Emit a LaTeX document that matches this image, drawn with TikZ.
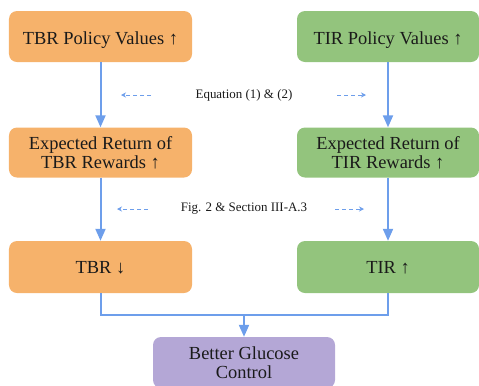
\documentclass[tikz,border=0pt]{standalone}
\usepackage{fontspec}
\setmainfont{Liberation Serif}
\usetikzlibrary{arrows.meta}
\definecolor{tbrfill}{HTML}{F6B26B}
\definecolor{tirfill}{HTML}{93C47D}
\definecolor{goalfill}{HTML}{B4A7D6}
\definecolor{flow}{HTML}{6D9EEB}
\definecolor{ink}{HTML}{1A1A1A}
\tikzset{
  box/.style={rectangle, rounded corners=8bp, draw=none, minimum height=51bp,
    minimum width=183bp, align=center, text=ink,
    font=\fontsize{18.5}{19.5}\selectfont, inner sep=0pt},
  oneline/.style={text height=12.5bp, text depth=0bp},
  tbr/.style={box, fill=tbrfill},
  tir/.style={box, fill=tirfill},
  goal/.style={box, fill=goalfill},
  flowline/.style={draw=flow, line width=2bp},
  flowarrow/.style={flowline, -{Triangle[width=10bp,length=12bp]}},
  hint/.style={draw=flow, line width=0.8bp, dash pattern=on 4bp off 3bp,
    -{Stealth[width=5bp,length=5bp]}},
  note/.style={font=\fontsize{13}{15}\selectfont, text=ink, inner sep=0pt}
}
\begin{document}
\begin{tikzpicture}[x=1bp, y=-1bp]
  \useasboundingbox (0,0) rectangle (479,385);
  \clip (0,0) rectangle (479,385);

  % left column
  \node[tbr, text height=15.5bp, text depth=0bp] (tbrpol) at (100.5,36.5) {TBR Policy Values ↑};
  \node[tbr, minimum height=50bp] (tbrret) at (100.5,152.5) {Expected Return of\\TBR Rewards ↑};
  \node[tbr, oneline, minimum height=52bp] (tbrout) at (100.5,267) {TBR ↓};

  % right column
  \node[tir, text height=15.5bp, text depth=0bp, minimum width=182bp] (tirpol) at (388,36.5) {TIR Policy Values ↑};
  \node[tir, minimum width=182bp, minimum height=50bp] (tirret) at (388,152.5) {Expected Return of\\TIR Rewards ↑};
  \node[tir, oneline, minimum width=182bp, minimum height=52bp] (tirout) at (388,267) {TIR ↑};

  % combined outcome
  \node[goal, minimum width=182bp] (goal) at (244,362.5) {Better Glucose\\Control};

  % main flow
  \draw[flowarrow] (tbrpol) -- (tbrret);
  \draw[flowarrow] (tbrret) -- (tbrout);
  \draw[flowarrow] (tirpol) -- (tirret);
  \draw[flowarrow] (tirret) -- (tirout);

  \coordinate (join) at (244,315);
  \draw[flowline] (tbrout.south) |- (join) -| (tirout.south);
  \draw[flowarrow] (join) -- (goal.north);

  % references between the rows
  \node[note] (eqref) at (244,95) {Equation (1) \& (2)};
  \coordinate (eqL1) at (151,95);
  \coordinate (eqL2) at (121,95);
  \coordinate (eqR1) at (337,95);
  \coordinate (eqR2) at (366,95);
  \draw[hint] (eqL1) -- (eqL2);
  \draw[hint] (eqR1) -- (eqR2);

  \node[note] (figref) at (244,209) {Fig. 2 \& Section III-A.3};
  \coordinate (fgL1) at (148,209);
  \coordinate (fgL2) at (117,209);
  \coordinate (fgR1) at (335,209);
  \coordinate (fgR2) at (364,209);
  \draw[hint] (fgL1) -- (fgL2);
  \draw[hint] (fgR1) -- (fgR2);
\end{tikzpicture}
\end{document}
